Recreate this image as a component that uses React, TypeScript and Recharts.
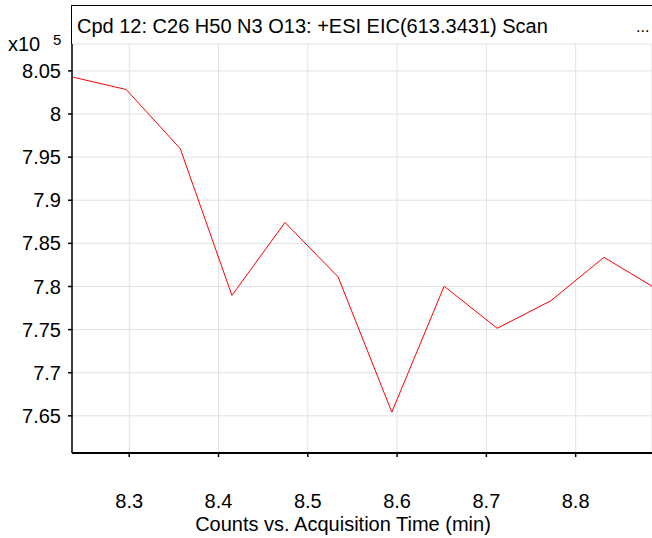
import { CartesianGrid, Line, LineChart, XAxis, YAxis } from 'recharts';

// acquisition time (min) and counts (x10^5)
const times = [8.2372, 8.2966, 8.3572, 8.415, 8.4744, 8.5339, 8.5941, 8.6527, 8.7121, 8.7723, 8.8317, 8.8911];
const counts = [8.0427, 8.0284, 7.9597, 7.7896, 7.8742, 7.8112, 7.6543, 7.8003, 7.7515, 7.7835, 7.8338, 7.7969];
const xTicks = [8.3, 8.4, 8.5, 8.6, 8.7, 8.8];
const yTicks = [7.65, 7.7, 7.75, 7.8, 7.85, 7.9, 7.95, 8, 8.05];

const data = times.map((t, i) => ({ t, v: counts[i] }));

const font = '"Liberation Sans", Arial, sans-serif';
const tickStyle = { fill: '#000', fontSize: 20, fontFamily: font };

export default function App() {
  return (
    <div style={{ position: 'absolute', left: 0, top: 0, width: 652, height: 538, background: '#fff', fontFamily: font }}>
      <LineChart width={652} height={538} data={data} margin={{ top: 44, right: 0, bottom: 0, left: 0 }}>
        <CartesianGrid stroke="#e2e2e2" strokeWidth={1} />
        <XAxis
          type="number"
          dataKey="t"
          domain={[8.2359, 8.8855]}
          allowDataOverflow
          ticks={xTicks}
          tickFormatter={(v: number) => v.toFixed(1)}
          tick={tickStyle}
          tickSize={4}
          tickMargin={37}
          height={85}
          axisLine={{ stroke: '#000', strokeWidth: 2 }}
          tickLine={{ stroke: '#000', strokeWidth: 1.5 }}
        />
        <YAxis
          type="number"
          domain={[7.6069, 8.0812]}
          allowDataOverflow
          ticks={yTicks}
          tickFormatter={(v: number) => String(Number(v.toFixed(2)))}
          tick={tickStyle}
          tickSize={4}
          tickMargin={7}
          width={72}
          axisLine={{ stroke: '#000', strokeWidth: 1.5 }}
          tickLine={{ stroke: '#000', strokeWidth: 1.5 }}
        />
        <Line type="linear" dataKey="v" stroke="#ff0000" strokeWidth={1} dot={false} isAnimationActive={false} />
      </LineChart>
      <div
        style={{
          position: 'absolute',
          left: 71,
          top: 5,
          width: 581,
          height: 39,
          borderTop: '1.5px solid #000',
          borderLeft: '1.5px solid #000',
          boxSizing: 'border-box',
        }}
      />
      <div style={{ position: 'absolute', left: 77, top: 15, fontSize: 20, lineHeight: '22px', whiteSpace: 'nowrap' }}>
        Cpd 12: C26 H50 N3 O13: +ESI EIC(613.3431) Scan
      </div>
      <div style={{ position: 'absolute', left: 636, top: 17, fontSize: 16, lineHeight: '20px' }}>...</div>
      <div style={{ position: 'absolute', left: 8, top: 33, fontSize: 20, lineHeight: '22px' }}>x10</div>
      <div style={{ position: 'absolute', left: 53, top: 31, fontSize: 15, lineHeight: '18px' }}>5</div>
      <div
        style={{
          position: 'absolute',
          left: 343,
          top: 517,
          transform: 'translateX(-50%)',
          fontSize: 20,
          lineHeight: '14px',
          whiteSpace: 'nowrap',
        }}
      >
        Counts vs. Acquisition Time (min)
      </div>
    </div>
  );
}
